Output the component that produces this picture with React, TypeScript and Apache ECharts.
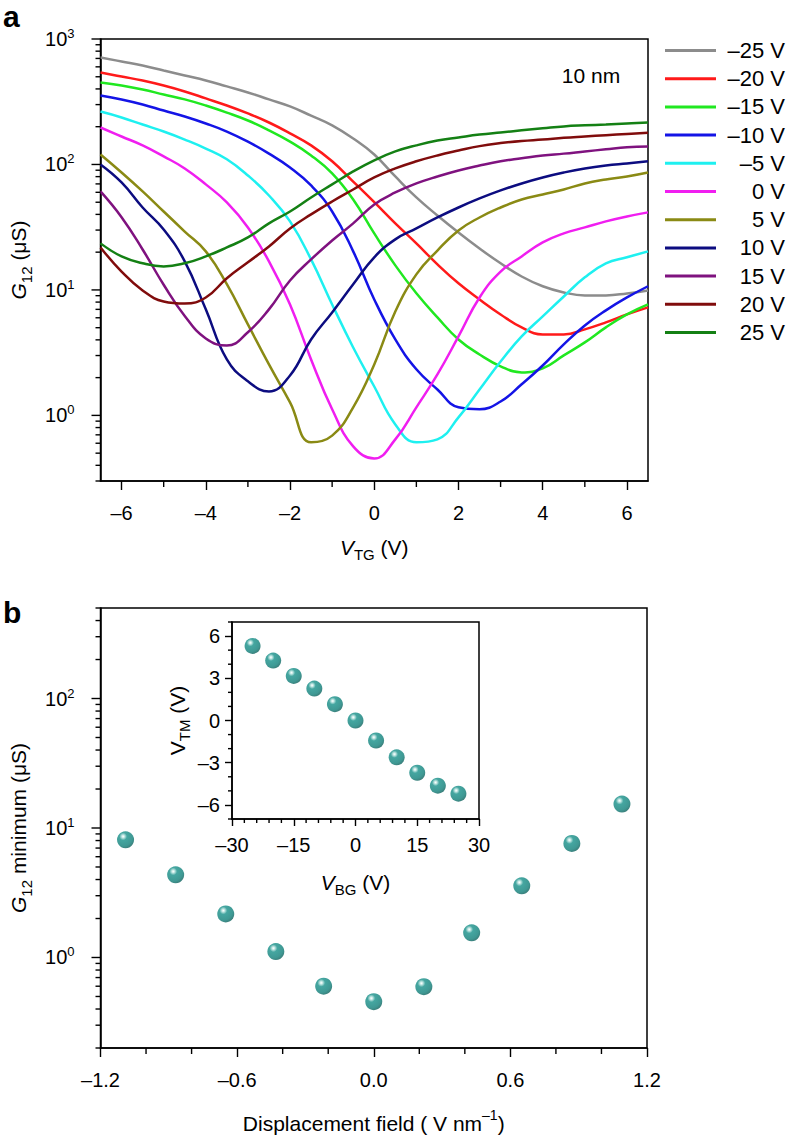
import React, { useEffect, useRef } from 'react';
import * as echarts from 'echarts';

const FONT = '"Liberation Sans", Arial, Helvetica, sans-serif';

// ---------- Panel a: G12 vs V_TG for several back-gate voltages ----------
const vtg = [-6.5, -6, -5.5, -5, -4.5, -4, -3.5, -3, -2.5, -2, -1.5, -1, -0.5, 0, 0.5, 1, 1.5, 2, 2.5, 3, 3.5, 4, 4.5, 5, 5.5, 6, 6.5];

const bgLabels = ['–25 V', '–20 V', '–15 V', '–10 V', '–5 V', '0 V', '5 V', '10 V', '15 V', '20 V', '25 V'];
const bgColors = ['#8c8c8c', '#ff1a1a', '#20e820', '#1414e6', '#1ef0f0', '#f01ef0', '#8a8a14', '#0c0c80', '#7f127f', '#800c0c', '#148014'];

const gM25 = [713, 662, 615, 561, 512, 467, 419, 375, 330, 290, 245, 205, 161, 120, 80.2, 54.6, 39.2, 28.7, 21.4, 16.3, 12.8, 10.7, 9.55, 9.04, 9.04, 9.38, 9.91];
const gM20 = [541, 502, 467, 426, 382, 336, 295, 255, 216, 177, 142, 106, 73, 50, 33.9, 23.5, 16.0, 11.3, 8.4, 6.38, 5.03, 4.42, 4.42, 4.85, 5.51, 6.38, 7.26];
const gM15 = [450, 426, 396, 361, 330, 295, 259, 224, 187, 152, 118, 84.8, 52.6, 28.2, 15.7, 9.4, 6.04, 4.03, 3.06, 2.46, 2.2, 2.37, 3.01, 3.82, 5.03, 6.38, 7.66];
const gM10 = [355, 330, 301, 269, 241, 212, 183, 152, 122, 94.6, 68, 42.2, 20.3, 8.4, 4.03, 2.33, 1.61, 1.16, 1.12, 1.29, 1.77, 2.5, 3.68, 5.21, 6.87, 8.71, 10.7];
const gM5 = [264, 237, 208, 183, 158, 134, 110, 81.7, 56.6, 35.2, 17.5, 7.66, 3.48, 1.7, 0.848, 0.61, 0.644, 0.964, 1.61, 2.69, 4.26, 6.15, 8.87, 12.6, 16.3, 18.2, 20.3];
const g0 = [197, 167, 142, 116, 93, 69.4, 49.8, 31.5, 16.9, 7.66, 2.79, 1.12, 0.566, 0.454, 0.644, 1.16, 2.12, 4.26, 8.71, 14.0, 18.5, 23.9, 28.2, 31.5, 35.2, 38.5, 41.5];
const gP5 = [120, 86.3, 61, 42.2, 29.2, 20.3, 11.1, 5.31, 2.55, 1.27, 0.61, 0.69, 1.16, 2.55, 6.74, 13.3, 20.6, 29.8, 37.8, 45.4, 52.6, 57.7, 63.2, 70.6, 75.9, 80.2, 86.3];
const gP10 = [100, 71.9, 45.4, 30.3, 16.9, 7.0, 2.79, 1.87, 1.55, 2.08, 4.03, 6.62, 11.1, 18.2, 25.3, 30.9, 37.8, 45.4, 53.6, 62.1, 70.6, 78.8, 86.3, 93, 98.2, 102, 106];
const gP15 = [61, 38, 21, 11, 6.2, 4.1, 3.6, 4.6, 7.0, 11.9, 17.5, 24.8, 33.9, 48, 59.8, 70.6, 80.2, 89.6, 98, 106, 112, 118, 122, 127, 132, 137, 139];
const gP20 = [21.8, 14.0, 9.9, 8.1, 7.8, 8.7, 12.4, 16.6, 22.2, 30.9, 40, 50.7, 63.2, 78.8, 93, 106, 118, 129, 140, 148, 154, 158, 163, 167, 171, 175, 179];
const gP25 = [23.5, 18.5, 16.3, 15.4, 16.3, 18.5, 21.8, 26.2, 33.9, 42.2, 54.6, 69.4, 88, 108, 127, 142, 155, 164, 173, 180, 187, 194, 201, 205, 208, 212, 216];

const curves = [gM25, gM20, gM15, gM10, gM5, g0, gP5, gP10, gP15, gP20, gP25];

// ---------- Panel b: minimum conductance vs displacement field ----------
const displacement = [-1.09, -0.87, -0.65, -0.43, -0.22, 0, 0.22, 0.43, 0.65, 0.87, 1.09];
const gMinimum = [8.1, 4.35, 2.17, 1.11, 0.6, 0.456, 0.595, 1.55, 3.58, 7.6, 15.3];

// ---------- Inset: V_TM vs V_BG ----------
const vbg = [-25, -20, -15, -10, -5, 0, 5, 10, 15, 20, 25];
const vtm = [5.3, 4.26, 3.17, 2.27, 1.16, 0, -1.42, -2.62, -3.71, -4.63, -5.2];

// ---------- tick values ----------
const aXMajor = [-6, -4, -2, 0, 2, 4, 6];
const aXMinor = [-5, -3, -1, 1, 3, 5];
const bXMinor = [-1.0, -0.8, -0.4, -0.2, 0.2, 0.4, 0.8, 1.0];
const insetXMinor = [-27, -24, -21, -18, -12, -9, -6, -3, 3, 6, 9, 12, 18, 21, 24, 27];
const insetYMajor = [-6, -3, 0, 3, 6];
const insetYMinor = [-7, -5, -4, -2, -1, 1, 2, 4, 5, 7];
const decades = [1, 10, 100, 1000];

function logMinor(lo: number, hi: number): number[] {
  const out: number[] = [];
  for (let e = -1; e <= 3; e++) {
    for (let m = 2; m <= 9; m++) {
      const v = +(m * Math.pow(10, e)).toPrecision(3);
      if (v >= lo - 1e-9 && v <= hi + 1e-9) out.push(v);
    }
  }
  return out;
}

const dash = (v: number, digits = 0) => (v < 0 ? '–' : '') + Math.abs(v).toFixed(digits);

const logLabel = (v: number) => {
  const e = Math.log10(v);
  const r = Math.round(e);
  if (Math.abs(e - r) > 1e-6) return '';
  return `{b|10}{e|${r}}`;
};

const TICK_FS = 20;

const logRich = {
  b: { fontSize: TICK_FS, fontFamily: FONT, color: '#000', lineHeight: 24 },
  e: { fontSize: 13, fontFamily: FONT, color: '#000', verticalAlign: 'top', lineHeight: 12 },
};

const nameRich = {
  i: { fontSize: 21, fontStyle: 'italic', fontFamily: FONT, color: '#000', lineHeight: 30 },
  n: { fontSize: 21, fontFamily: FONT, color: '#000', lineHeight: 30 },
  s: { fontSize: 15, fontFamily: FONT, color: '#000', verticalAlign: 'bottom', lineHeight: 15 },
  p: { fontSize: 14, fontFamily: FONT, color: '#000', verticalAlign: 'top', lineHeight: 14 },
};

const nameStyle = { fontFamily: FONT, fontSize: 21, color: '#000', rich: nameRich };

const axisLine = { show: true, onZero: false, lineStyle: { color: '#000', width: 1.5 } };

function tickRender(params: any, api: any) {
  const x = api.value(0);
  const y = api.value(1);
  const dir = api.value(2);
  const len = api.value(3);
  const p = api.coord([x, y]);
  const shape = dir === 0
    ? { x1: p[0], y1: p[1], x2: p[0], y2: p[1] + len }
    : { x1: p[0] - len, y1: p[1], x2: p[0], y2: p[1] };
  return { type: 'line', shape, style: { stroke: '#000', lineWidth: 1.4 } };
}

function tickSeries(idx: number, data: number[][]) {
  return {
    type: 'custom',
    xAxisIndex: idx,
    yAxisIndex: idx,
    renderItem: tickRender,
    data,
    silent: true,
    clip: false,
    z: 10,
  };
}

function sphere() {
  return new echarts.graphic.RadialGradient(0.36, 0.3, 0.75, [
    { offset: 0, color: '#ffffff' },
    { offset: 0.1, color: '#bfe6e2' },
    { offset: 0.3, color: '#169089' },
    { offset: 0.75, color: '#0f7f79' },
    { offset: 1, color: '#0a5c57' },
  ]);
}

function buildOption(): any {
  const gridBox = { show: true, borderColor: '#000', borderWidth: 1.5, backgroundColor: 'rgba(0,0,0,0)' };

  const lineSeries = bgLabels.map((name, i) => ({
    name,
    type: 'line',
    xAxisIndex: 0,
    yAxisIndex: 0,
    data: vtg.map((x, j) => [x, curves[i][j]]),
    showSymbol: false,
    symbol: 'none',
    smooth: 0.45,
    color: bgColors[i],
    lineStyle: { width: 2.5, color: bgColors[i] },
    z: 3,
  }));

  const ticksA = [
    ...aXMinor.map((x) => [x, 0.3, 0, 6]),
    ...logMinor(0.3, 1000).map((v) => [-6.5, v, 1, 5]),
    ...decades.map((v) => [-6.5, v, 1, 9]),
  ];
  const ticksB = [
    ...bXMinor.map((x) => [x, 0.2, 0, 6]),
    ...logMinor(0.2, 500).map((v) => [-1.2, v, 1, 5]),
    ...decades.filter((v) => v <= 500).map((v) => [-1.2, v, 1, 9]),
  ];
  const ticksC = [
    ...insetXMinor.map((x) => [x, -7, 0, 4]),
    ...insetYMinor.map((y) => [-30, y, 1, 4]),
  ];

  return {
    animation: false,
    backgroundColor: '#fff',
    textStyle: { fontFamily: FONT },
    grid: [
      { left: 100, top: 39, width: 548, height: 442, ...gridBox },
      { left: 100, top: 608, width: 547, height: 440, ...gridBox },
      { left: 232, top: 622, width: 247, height: 197, show: true, borderColor: '#000', borderWidth: 1.5, backgroundColor: '#fff' },
    ],
    xAxis: [
      {
        gridIndex: 0, type: 'value', min: -6.5, max: 6.5,
        axisLine,
        axisTick: { show: true, customValues: aXMajor, length: 9, lineStyle: { color: '#000', width: 1.4 } },
        axisLabel: { customValues: aXMajor, formatter: (v: number) => dash(v), fontSize: TICK_FS, color: '#000', fontFamily: FONT, margin: 22 },
        splitLine: { show: false },
        name: '{i|V}{s|TG}{n| (V)}', nameLocation: 'middle', nameGap: 51, nameTextStyle: nameStyle,
      },
      {
        gridIndex: 1, type: 'value', min: -1.2, max: 1.2, interval: 0.6,
        axisLine,
        axisTick: { show: true, length: 9, lineStyle: { color: '#000', width: 1.4 } },
        axisLabel: { formatter: (v: number) => dash(v, 1), fontSize: TICK_FS, color: '#000', fontFamily: FONT, margin: 22 },
        splitLine: { show: false },
        name: '{n|Displacement field ( V nm}{p|–1}{n|)}', nameLocation: 'middle', nameGap: 60, nameTextStyle: nameStyle,
      },
      {
        gridIndex: 2, type: 'value', min: -30, max: 30, interval: 15,
        axisLine,
        axisTick: { show: true, length: 7, lineStyle: { color: '#000', width: 1.4 } },
        axisLabel: { formatter: (v: number) => dash(v), fontSize: TICK_FS, color: '#000', fontFamily: FONT, margin: 16 },
        splitLine: { show: false },
        name: '{i|V}{s|BG}{n| (V)}', nameLocation: 'middle', nameGap: 48, nameTextStyle: nameStyle,
      },
    ],
    yAxis: [
      {
        gridIndex: 0, type: 'log', logBase: 10, min: 0.3, max: 1000,
        axisLine,
        axisTick: { show: false },
        axisLabel: { formatter: logLabel, rich: logRich, margin: 26 },
        splitLine: { show: false },
        name: '{i|G}{s|12}{n| (μS)}', nameLocation: 'middle', nameGap: 67, nameTextStyle: nameStyle,
      },
      {
        gridIndex: 1, type: 'log', logBase: 10, min: 0.2, max: 500,
        axisLine,
        axisTick: { show: false },
        axisLabel: { formatter: logLabel, rich: logRich, margin: 26 },
        splitLine: { show: false },
        name: '{i|G}{s|12}{n| minimum (μS)}', nameLocation: 'middle', nameGap: 67, nameTextStyle: nameStyle,
      },
      {
        gridIndex: 2, type: 'value', min: -7, max: 7,
        axisLine,
        axisTick: { show: true, customValues: insetYMajor, length: 7, lineStyle: { color: '#000', width: 1.4 } },
        axisLabel: { customValues: insetYMajor, formatter: (v: number) => dash(v), fontSize: TICK_FS, color: '#000', fontFamily: FONT, margin: 12 },
        splitLine: { show: false },
        name: '{n|V}{s|TM}{n| (V)}', nameLocation: 'middle', nameGap: 40, nameTextStyle: nameStyle,
      },
    ],
    legend: {
      orient: 'vertical',
      left: 665,
      top: 39.5,
      padding: 0,
      itemWidth: 51,
      itemHeight: 3,
      itemGap: 6.2,
      icon: 'rect',
      selectedMode: false,
      data: bgLabels,
      formatter: (n: string) => `{r|${n}}`,
      textStyle: {
        fontFamily: FONT, fontSize: 22, color: '#000',
        rich: { r: { width: 64, align: 'right', fontSize: 22, fontFamily: FONT, color: '#000', lineHeight: 22 } },
      },
    },
    graphic: [
      { type: 'text', x: 3, y: 1, style: { text: 'a', fontSize: 30, fontWeight: 'bold', fontFamily: FONT, fill: '#000', align: 'left', verticalAlign: 'top' } },
      { type: 'text', x: 3, y: 597, style: { text: 'b', fontSize: 30, fontWeight: 'bold', fontFamily: FONT, fill: '#000', align: 'left', verticalAlign: 'top' } },
      { type: 'text', x: 591, y: 75.5, style: { text: '10 nm', fontSize: 21, fontFamily: FONT, fill: '#000', align: 'center', verticalAlign: 'middle' } },
    ],
    series: [
      ...lineSeries,
      {
        type: 'scatter', xAxisIndex: 1, yAxisIndex: 1,
        data: displacement.map((d, i) => [d, gMinimum[i]]),
        symbolSize: 17,
        itemStyle: { color: sphere() },
        z: 4,
      },
      {
        type: 'scatter', xAxisIndex: 2, yAxisIndex: 2,
        data: vbg.map((v, i) => [v, vtm[i]]),
        symbolSize: 16,
        itemStyle: { color: sphere() },
        z: 6,
      },
      tickSeries(0, ticksA),
      tickSeries(1, ticksB),
      tickSeries(2, ticksC),
    ],
  };
}

export default function App() {
  const ref = useRef<HTMLDivElement>(null);
  useEffect(() => {
    if (!ref.current) return;
    const chart = echarts.init(ref.current, null, { renderer: 'svg' });
    chart.setOption(buildOption());
    return () => chart.dispose();
  }, []);
  return <div ref={ref} style={{ position: 'absolute', left: 0, top: 0, width: 788, height: 1137 }} />;
}
